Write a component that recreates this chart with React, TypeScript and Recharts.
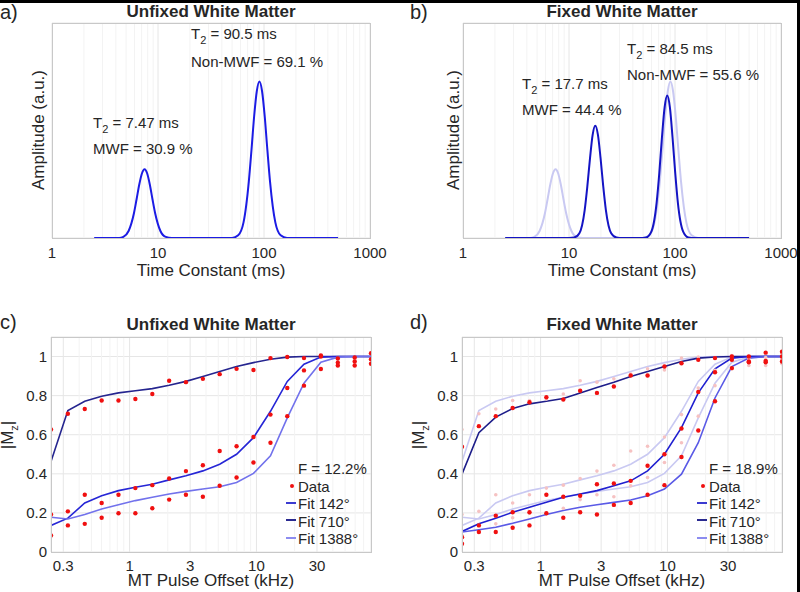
import React from "react";
import { ComposedChart, Line, Scatter, XAxis, YAxis, CartesianGrid, ReferenceLine } from "recharts";

// ---- T2 spectra (panels a, b) ----
const T2_UNFIXED = [2.5, 4.3, 4.71, 5.28, 5.93, 6.28, 6.65, 7.05, 7.47, 7.91, 8.38, 8.87, 9.4, 10.54, 11.83, 13.5, 50, 57.1, 64.1, 71.9, 76.2, 80.7, 85.5, 90.5, 95.9, 101.6, 107.6, 114.0, 127.9, 143.5, 165, 500];
const AMP_UNFIXED = [0, 0, 0.02, 0.13, 0.46, 0.72, 0.99, 1.2, 1.28, 1.2, 0.99, 0.72, 0.46, 0.13, 0.02, 0, 0, 0.05, 0.29, 1.05, 1.64, 2.26, 2.73, 2.91, 2.73, 2.26, 1.64, 1.05, 0.29, 0.05, 0, 0];
const T2_FIXED = [2.5, 9.0, 11.17, 12.53, 14.06, 14.89, 15.78, 16.71, 17.7, 18.75, 19.86, 21.04, 22.28, 25.0, 28.05, 32, 46, 53.3, 59.8, 67.1, 71.1, 75.3, 79.8, 84.5, 89.5, 94.8, 100.5, 106.4, 119.4, 134.0, 155, 500];
const AMP_FIXED = [0, 0, 0.01, 0.09, 0.52, 0.96, 1.48, 1.92, 2.09, 1.92, 1.48, 0.96, 0.52, 0.09, 0.01, 0, 0, 0.01, 0.12, 0.66, 1.21, 1.87, 2.43, 2.65, 2.43, 1.87, 1.21, 0.66, 0.12, 0.01, 0, 0];
const T2_TICKS = [1, 10, 100, 1000];
const T2_MINOR = [2, 3, 4, 5, 6, 7, 8, 9, 20, 30, 40, 50, 60, 70, 80, 90, 200, 300, 400, 500, 600, 700, 800, 900];
const AMP_TICKS = [0, 1, 2, 3, 4];

// ---- MT saturation (panels c, d) ----
const MT_OFFSET = [0.24, 0.326, 0.443, 0.602, 0.817, 1.11, 1.51, 2.05, 2.78, 3.78, 5.13, 6.97, 9.47, 12.9, 17.5, 23.7, 32.2, 43.8, 59.5, 80];
const MT_TICKS = [0.3, 1, 3, 10, 30];
const MT_MINOR = [0.4, 0.5, 0.6, 0.7, 0.8, 0.9, 2, 4, 5, 6, 7, 8, 9, 20, 40, 50, 60, 70];
const MZ_TICKS = [0, 0.2, 0.4, 0.6, 0.8, 1];

const UNFIXED_FIT_142 = [0.463, 0.724, 0.771, 0.797, 0.814, 0.825, 0.836, 0.853, 0.873, 0.898, 0.924, 0.949, 0.969, 0.986, 0.997, 1, 1, 1, 1, 1];
const UNFIXED_FIT_710 = [0.136, 0.173, 0.251, 0.288, 0.314, 0.331, 0.347, 0.369, 0.39, 0.415, 0.449, 0.5, 0.585, 0.72, 0.873, 0.961, 0.997, 1, 1, 1];
const UNFIXED_FIT_1388 = [0.178, 0.169, 0.192, 0.22, 0.242, 0.263, 0.28, 0.297, 0.31, 0.322, 0.334, 0.356, 0.402, 0.492, 0.686, 0.864, 0.971, 0.997, 1, 1];
const UNFIXED_DATA_142 = [0.627, 0.707, 0.732, 0.775, 0.775, 0.783, 0.808, 0.876, 0.869, 0.886, 0.91, 0.937, 0.931, 0.992, 0.998, 0.992, 1.005, 0.99, 0.995, 1.017];
const UNFIXED_DATA_710 = [0.085, 0.208, 0.293, 0.251, 0.293, 0.327, 0.342, 0.376, 0.414, 0.444, 0.517, 0.541, 0.588, 0.703, 0.839, 0.929, 1.0, 0.969, 0.975, 0.986];
const UNFIXED_DATA_1388 = [0.192, 0.136, 0.144, 0.175, 0.198, 0.198, 0.224, 0.268, 0.293, 0.283, 0.339, 0.381, 0.458, 0.559, 0.695, 0.851, 0.936, 0.954, 0.954, 0.963];

const FIXED_FIT_142 = [0.398, 0.61, 0.69, 0.734, 0.758, 0.771, 0.785, 0.814, 0.842, 0.869, 0.898, 0.924, 0.949, 0.975, 0.992, 0.998, 1, 1, 1, 1];
const FIXED_FIT_710 = [0.105, 0.144, 0.173, 0.203, 0.229, 0.254, 0.28, 0.297, 0.314, 0.339, 0.364, 0.415, 0.5, 0.636, 0.814, 0.937, 0.992, 1, 1, 1];
const FIXED_FIT_1388 = [0.102, 0.114, 0.127, 0.147, 0.169, 0.192, 0.212, 0.229, 0.242, 0.254, 0.266, 0.288, 0.322, 0.398, 0.559, 0.788, 0.949, 0.992, 1, 1];
const FIXED_DATA_142 = [0.539, 0.644, 0.695, 0.737, 0.766, 0.792, 0.78, 0.825, 0.814, 0.847, 0.903, 0.903, 0.949, 0.966, 0.983, 0.992, 1.0, 1.0, 1.02, 1.025];
const FIXED_DATA_710 = [0.076, 0.136, 0.186, 0.203, 0.203, 0.293, 0.283, 0.288, 0.347, 0.351, 0.364, 0.441, 0.5, 0.632, 0.819, 0.92, 0.983, 0.975, 0.978, 1.0];
const FIXED_DATA_1388 = [0.042, 0.102, 0.102, 0.124, 0.136, 0.198, 0.175, 0.203, 0.192, 0.241, 0.251, 0.293, 0.342, 0.486, 0.622, 0.771, 0.941, 0.971, 0.971, 0.975];

const FONT = '"Liberation Sans", Arial, Helvetica, sans-serif';
const INK = "#262626";
const GRID = "#e6e6e6";
const MINOR = "#f3f3f3";
const FRAME = "#c8c8c8";
const RED = "#f01010";
const FADED_RED = "#f6c2c2";
const FADED_BLUE = "#c9c9f2";

const rows = (xs: number[], ys: number[]) => xs.map((x, i) => ({ x, y: ys[i] }));

function Txt({ x, y, size = 15, bold = false, anchor = "start", rotate = false, children }: any) {
  const tx = anchor === "middle" ? "-50%" : anchor === "end" ? "-100%" : "0";
  return (
    <div
      style={{
        position: "absolute",
        left: x,
        top: y,
        fontSize: size,
        lineHeight: `${size}px`,
        fontWeight: bold ? 700 : 400,
        whiteSpace: "nowrap",
        color: INK,
        transform: `translate(${tx}, -50%)${rotate ? " rotate(-90deg)" : ""}`,
      }}
    >
      {children}
    </div>
  );
}

const Sub = ({ children }: any) => (
  <span style={{ fontSize: 11, position: "relative", top: 5 }}>{children}</span>
);

function Frame({ x, y, w, h }: any) {
  return (
    <div style={{ position: "absolute", left: x, top: y, width: w, height: h, border: `1px solid ${FRAME}`, boxSizing: "border-box", pointerEvents: "none" }} />
  );
}

const dot = (color: string, r: number) => (p: any) => <circle cx={p.cx} cy={p.cy} r={r} fill={color} />;

function SpectrumChart({ left, marginLeft, marginRight, faded, main, color }: any) {
  return (
    <div style={{ position: "absolute", left, top: 0 }}>
      <ComposedChart width={400} height={290} margin={{ top: 23, right: marginRight, bottom: 22, left: marginLeft }}>
        <CartesianGrid stroke={GRID} />
        {T2_MINOR.map((v) => (
          <ReferenceLine key={v} x={v} stroke={MINOR} />
        ))}
        <XAxis type="number" dataKey="x" scale="log" domain={[1, 1000]} ticks={T2_TICKS} interval={0} height={30}
          tickSize={0} tickMargin={9} tickLine={false} axisLine={false} tick={{ fontSize: 15, fill: INK, fontFamily: FONT }} allowDataOverflow />
        <YAxis type="number" dataKey="y" domain={[0, 4]} ticks={AMP_TICKS} width={1} tick={false} tickLine={false} axisLine={false} />
        {faded && (
          <Line data={faded} dataKey="y" type="monotone" stroke={FADED_BLUE} strokeWidth={2} dot={false} isAnimationActive={false} />
        )}
        <Line data={main} dataKey="y" type="monotone" stroke={color} strokeWidth={2} dot={false} isAnimationActive={false} />
      </ComposedChart>
    </div>
  );
}

function MtChart({ left, marginLeft, marginRight, faded, fits, data }: any) {
  return (
    <div style={{ position: "absolute", left, top: 290 }}>
      <ComposedChart width={400} height={302} margin={{ top: 47, right: marginRight, bottom: 10, left: marginLeft }}>
        <CartesianGrid stroke={GRID} />
        {MT_MINOR.map((v) => (
          <ReferenceLine key={v} x={v} stroke={MINOR} />
        ))}
        <XAxis type="number" dataKey="x" scale="log" domain={[0.24, 80]} ticks={MT_TICKS} interval={0} height={30}
          tickSize={0} tickMargin={8} tickLine={false} axisLine={false} tick={{ fontSize: 15, fill: INK, fontFamily: FONT }} allowDataOverflow />
        <YAxis type="number" dataKey="y" domain={[0, 1.1]} ticks={MZ_TICKS} interval={0} width={40}
          tickSize={0} tickMargin={4} tickLine={false} axisLine={false} tick={{ fontSize: 15, fill: INK, fontFamily: FONT }} />
        {faded &&
          faded.fits.map((f: any, i: number) => (
            <Line key={"ff" + i} data={f} dataKey="y" type="linear" stroke={FADED_BLUE} strokeWidth={1.6} dot={false} isAnimationActive={false} />
          ))}
        {faded &&
          faded.data.map((d: any, i: number) => (
            <Scatter key={"fd" + i} data={d} dataKey="y" shape={dot(FADED_RED, 1.8)} isAnimationActive={false} />
          ))}
        {fits.map((f: any, i: number) => (
          <Line key={"f" + i} data={f.rows} dataKey="y" type="linear" stroke={f.color} strokeWidth={1.6} dot={false} isAnimationActive={false} />
        ))}
        {data.map((d: any, i: number) => (
          <Scatter key={"d" + i} data={d} dataKey="y" shape={dot(RED, 2.2)} isAnimationActive={false} />
        ))}
      </ComposedChart>
    </div>
  );
}

const LEGEND_COLORS = ["#3b3bd0", "#2a2a90", "#8c8cf0"];
const LEGEND_LABELS = ["Fit 142°", "Fit 710°", "Fit 1388°"];

function MtLegend({ x, f }: any) {
  const ys = [503, 520.5, 538];
  return (
    <>
      <Txt x={x} y={468}>F = {f}</Txt>
      <div style={{ position: "absolute", left: x - 8, top: 484, width: 4, height: 4, borderRadius: 2, background: RED }} />
      <Txt x={x} y={486}>Data</Txt>
      {LEGEND_LABELS.map((l, i) => (
        <React.Fragment key={l}>
          <div style={{ position: "absolute", left: x - 12, top: ys[i] - 1.5, width: 10, height: 2, background: LEGEND_COLORS[i] }} />
          <Txt x={x} y={ys[i]}>{l}</Txt>
        </React.Fragment>
      ))}
    </>
  );
}

export default function App() {
  const specA = rows(T2_UNFIXED, AMP_UNFIXED);
  const specB = rows(T2_FIXED, AMP_FIXED);

  const cFits = [
    { rows: rows(MT_OFFSET, UNFIXED_FIT_142), color: "#25258f" },
    { rows: rows(MT_OFFSET, UNFIXED_FIT_710), color: "#2626d6" },
    { rows: rows(MT_OFFSET, UNFIXED_FIT_1388), color: "#7272ec" },
  ];
  const cData = [rows(MT_OFFSET, UNFIXED_DATA_142), rows(MT_OFFSET, UNFIXED_DATA_710), rows(MT_OFFSET, UNFIXED_DATA_1388)];
  const dFits = [
    { rows: rows(MT_OFFSET, FIXED_FIT_142), color: "#1e1e8a" },
    { rows: rows(MT_OFFSET, FIXED_FIT_710), color: "#2020d0" },
    { rows: rows(MT_OFFSET, FIXED_FIT_1388), color: "#5a5ae6" },
  ];
  const dData = [rows(MT_OFFSET, FIXED_DATA_142), rows(MT_OFFSET, FIXED_DATA_710), rows(MT_OFFSET, FIXED_DATA_1388)];

  return (
    <div style={{ position: "fixed", left: 0, top: 0, width: 800, height: 592, background: "#fff", fontFamily: FONT, color: INK, overflow: "hidden" }}>
      {/* a) */}
      <SpectrumChart left={0} marginLeft={51} marginRight={30} main={specA} color="#1c1ce4" />
      <Frame x={52} y={23} w={319} h={216} />
      <Txt x={0} y={12} size={20}>a)</Txt>
      <Txt x={211} y={11} size={17} bold anchor="middle">Unfixed White Matter</Txt>
      <Txt x={38} y={130} size={17} anchor="middle" rotate>Amplitude (a.u.)</Txt>
      <Txt x={211} y={270} size={17} anchor="middle">Time Constant (ms)</Txt>
      <Txt x={191} y={34}>T<Sub>2</Sub> = 90.5 ms</Txt>
      <Txt x={191} y={61}>Non-MWF = 69.1 %</Txt>
      <Txt x={93} y={123}>T<Sub>2</Sub> = 7.47 ms</Txt>
      <Txt x={93} y={148}>MWF = 30.9 %</Txt>

      {/* b) */}
      <SpectrumChart left={400} marginLeft={62} marginRight={19} faded={specA} main={specB} color="#1414c4" />
      <Frame x={463} y={23} w={319} h={216} />
      <Txt x={410} y={12} size={20}>b)</Txt>
      <Txt x={622} y={11} size={17} bold anchor="middle">Fixed White Matter</Txt>
      <Txt x={453} y={130} size={17} anchor="middle" rotate>Amplitude (a.u.)</Txt>
      <Txt x={622} y={270} size={17} anchor="middle">Time Constant (ms)</Txt>
      <Txt x={627} y={48.5}>T<Sub>2</Sub> = 84.5 ms</Txt>
      <Txt x={627} y={73.5}>Non-MWF = 55.6 %</Txt>
      <Txt x={522} y={84}>T<Sub>2</Sub> = 17.7 ms</Txt>
      <Txt x={522} y={109}>MWF = 44.4 %</Txt>

      {/* c) */}
      <MtChart left={0} marginLeft={11} marginRight={29} fits={cFits} data={cData} />
      <Frame x={51} y={337} w={321} h={216} />
      <Txt x={0} y={322} size={20}>c)</Txt>
      <Txt x={211} y={323.5} size={17} bold anchor="middle">Unfixed White Matter</Txt>
      <Txt x={8} y={435} size={17} anchor="middle" rotate>|M<Sub>z</Sub>|</Txt>
      <Txt x={211} y={580} size={17} anchor="middle">MT Pulse Offset (kHz)</Txt>
      <MtLegend x={298} f="12.2%" />

      {/* d) */}
      <MtChart left={400} marginLeft={22} marginRight={18} faded={{ fits: cFits.map((f) => f.rows), data: cData }} fits={dFits} data={dData} />
      <Frame x={462} y={337} w={321} h={216} />
      <Txt x={410} y={322} size={20}>d)</Txt>
      <Txt x={622} y={323.5} size={17} bold anchor="middle">Fixed White Matter</Txt>
      <Txt x={419} y={435} size={17} anchor="middle" rotate>|M<Sub>z</Sub>|</Txt>
      <Txt x={622} y={580} size={17} anchor="middle">MT Pulse Offset (kHz)</Txt>
      <MtLegend x={709} f="18.9%" />

      {/* outer black edges */}
      <div style={{ position: "absolute", left: 0, top: 0, width: 800, height: 3, background: "#000" }} />
      <div style={{ position: "absolute", left: 797, top: 0, width: 3, height: 592, background: "#000" }} />
    </div>
  );
}
